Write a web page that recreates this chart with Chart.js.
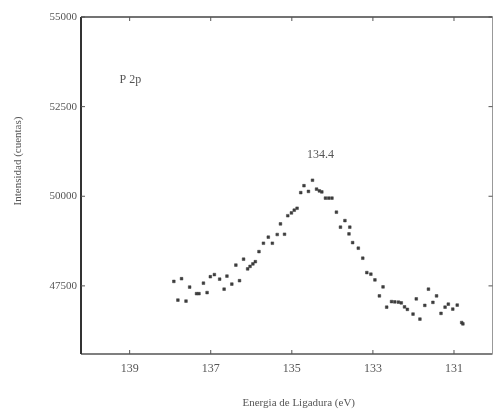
<!DOCTYPE html>
<html>
<head>
<meta charset="utf-8">
<script src="https://cdn.jsdelivr.net/npm/chart.js@4"></script>
<style>
  html, body { margin: 0; padding: 0; background: #fff; }
  #wrap { width: 497px; height: 414px; position: relative; }
</style>
</head>
<body>
<div id="wrap"><canvas id="xps-chart"></canvas></div>
<script>
// P 2p spectrum, binding energy (eV) vs counts
const energies = [137.91, 137.81, 137.72, 137.61, 137.52, 137.35, 137.29, 137.18, 137.09, 137.01,
  136.91, 136.78, 136.67, 136.60, 136.48, 136.38, 136.29, 136.19, 136.09, 136.03,
  135.96, 135.90, 135.81, 135.70, 135.58, 135.48, 135.36, 135.28, 135.18, 135.10,
  135.01, 134.94, 134.87, 134.78, 134.70, 134.59, 134.49, 134.39, 134.32, 134.26,
  134.17, 134.09, 134.01, 133.90, 133.80, 133.69, 133.59, 133.57, 133.50, 133.36,
  133.25, 133.15, 133.05, 132.95, 132.84, 132.75, 132.66, 132.54, 132.46, 132.37,
  132.30, 132.22, 132.15, 132.01, 131.93, 131.84, 131.72, 131.63, 131.52, 131.43,
  131.32, 131.22, 131.14, 131.03, 130.92, 130.81, 130.78];
const counts = [47625, 47104, 47700, 47076, 47467, 47283, 47283, 47575, 47313, 47756,
  47815, 47687, 47408, 47773, 47550, 48080, 47645, 48244, 47974, 48044,
  48113, 48175, 48456, 48690, 48858, 48690, 48933, 49229, 48941, 49457,
  49535, 49611, 49666, 50101, 50294, 50135, 50447, 50199, 50149, 50121,
  49948, 49948, 49948, 49555, 49137, 49321, 48950, 49137, 48707, 48551,
  48272, 47871, 47826, 47667, 47221, 47472, 46906, 47062, 47054, 47046,
  47026, 46915, 46845, 46714, 47138, 46574, 46956, 47408, 47040, 47221,
  46733, 46906, 46990, 46853, 46965, 46477, 46441];
const xTicks = [139, 137, 135, 133, 131];
const yTicks = [47500, 50000, 52500, 55000];
const peakLabel = "134.4";
const regionLabel = "P 2p";

const FONT = "'Liberation Serif', 'DejaVu Serif', serif";
const points = energies.map((e, i) => ({ x: e, y: counts[i] }));

// frame, inward ticks and text labels
const decorations = {
  id: "decorations",
  afterDraw(chart) {
    const ctx = chart.ctx;
    const a = chart.chartArea;
    const xs = chart.scales.x, ys = chart.scales.y;
    ctx.save();
    ctx.lineCap = "butt";

    ctx.strokeStyle = "#444"; ctx.lineWidth = 1.5;
    ctx.beginPath(); ctx.moveTo(a.left, a.top); ctx.lineTo(a.right, a.top); ctx.stroke();
    ctx.strokeStyle = "#555";
    ctx.beginPath(); ctx.moveTo(a.left, a.bottom); ctx.lineTo(a.right, a.bottom); ctx.stroke();
    ctx.strokeStyle = "#333"; ctx.lineWidth = 2;
    ctx.beginPath(); ctx.moveTo(a.left, a.top); ctx.lineTo(a.left, a.bottom); ctx.stroke();
    ctx.strokeStyle = "#999"; ctx.lineWidth = 1;
    ctx.beginPath(); ctx.moveTo(a.right, a.top); ctx.lineTo(a.right, a.bottom); ctx.stroke();

    ctx.strokeStyle = "#555"; ctx.lineWidth = 1;
    xTicks.forEach(v => {
      const px = xs.getPixelForValue(v);
      ctx.beginPath(); ctx.moveTo(px, a.bottom); ctx.lineTo(px, a.bottom - 4); ctx.stroke();
      ctx.beginPath(); ctx.moveTo(px, a.top); ctx.lineTo(px, a.top + 4); ctx.stroke();
    });
    yTicks.forEach(v => {
      const py = ys.getPixelForValue(v);
      ctx.beginPath(); ctx.moveTo(a.left, py); ctx.lineTo(a.left + 4, py); ctx.stroke();
      ctx.beginPath(); ctx.moveTo(a.right, py); ctx.lineTo(a.right - 4, py); ctx.stroke();
    });

    ctx.fillStyle = "#555";
    ctx.font = "12px " + FONT;
    ctx.textBaseline = "middle";
    ctx.textAlign = "left";
    ctx.fillText(regionLabel, xs.getPixelForValue(139.25), ys.getPixelForValue(53250));
    ctx.textAlign = "center";
    ctx.fillText(peakLabel, xs.getPixelForValue(134.29), ys.getPixelForValue(51150));

    ctx.font = "11px " + FONT;
    ctx.fillText("Energia de Ligadura (eV)", (a.left + a.right) / 2 + 12, 403);
    ctx.translate(18, 161);
    ctx.rotate(-Math.PI / 2);
    ctx.fillText("Intensidad (cuentas)", 0, 0);
    ctx.restore();
  }
};

new Chart(document.getElementById("xps-chart"), {
  type: "scatter",
  data: {
    datasets: [{
      data: points,
      pointStyle: "rect",
      pointRadius: 1.9,
      backgroundColor: "#3d3d3d",
      borderColor: "#3d3d3d",
      borderWidth: 0.5
    }]
  },
  options: {
    responsive: true,
    maintainAspectRatio: false,
    animation: false,
    layout: { padding: { top: 17, right: 0, left: 0, bottom: 0 } },
    plugins: { legend: { display: false }, tooltip: { enabled: false } },
    scales: {
      x: {
        type: "linear",
        reverse: true,
        min: 130.05,
        max: 140.2,
        border: { display: false },
        grid: { display: false, drawTicks: false },
        afterBuildTicks: s => { s.ticks = xTicks.map(v => ({ value: v })); },
        afterFit: s => { s.height = 60; },
        ticks: { color: "#555", font: { family: FONT, size: 12 }, padding: 8, maxRotation: 0,
          callback: v => String(v) }
      },
      y: {
        min: 45600,
        max: 55000,
        border: { display: false },
        grid: { display: false, drawTicks: false },
        afterBuildTicks: s => { s.ticks = yTicks.map(v => ({ value: v })); },
        afterFit: s => { s.width = 81; },
        ticks: { color: "#555", font: { family: FONT, size: 11 }, padding: 4,
          callback: v => String(v) }
      }
    }
  },
  plugins: [decorations]
});
</script>
</body>
</html>
